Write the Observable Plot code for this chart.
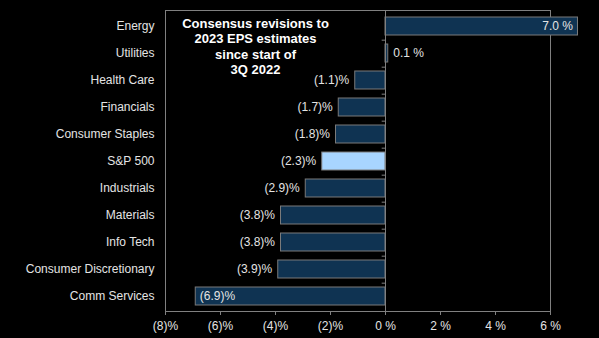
<!DOCTYPE html>
<html>
<head>
<meta charset="utf-8">
<script src="https://cdn.jsdelivr.net/npm/d3@7"></script>
<script src="https://cdn.jsdelivr.net/npm/@observablehq/plot@0.6"></script>
<style>
  html, body { margin: 0; padding: 0; background: #000; }
  #chart { width: 599px; height: 338px; }
  svg { display: block; }
</style>
</head>
<body>
<div id="chart"></div>
<script>
const categories = ["Energy", "Utilities", "Health Care", "Financials", "Consumer Staples", "S&P 500", "Industrials", "Materials", "Info Tech", "Consumer Discretionary", "Comm Services"];
const values = [7.0, 0.1, -1.1, -1.7, -1.8, -2.3, -2.9, -3.8, -3.8, -3.9, -6.9];
const xTicks = [-8, -6, -4, -2, 0, 2, 4, 6];
const titleLines = ["Consensus revisions to", "2023 EPS estimates", "since start of", "3Q 2022"];

const data = categories.map((c, i) => ({cat: c, v: values[i]}));
const fmt = v => v < 0 ? `(${(-v).toFixed(1)})%` : `${v.toFixed(1)} %`;
const tickFmt = v => v < 0 ? `(${-v})%` : `${v} %`;
const textColor = "#e4e4e4";

const outsideNeg = data.filter(d => d.v < 0 && d.v > -6);
const insideEnd = data.filter(d => d.v >= 5);
const outsidePos = data.filter(d => d.v >= 0 && d.v < 5);
const insideStart = data.filter(d => d.v <= -6);

const chart = Plot.plot({
  width: 599,
  height: 338,
  marginLeft: 165,
  marginRight: 49,
  marginTop: 10,
  marginBottom: 27,
  style: {background: "#000", color: textColor, fontFamily: "Arial, 'Liberation Sans', sans-serif", fontSize: "12px"},
  x: {domain: [-8, 6], label: null},
  y: {domain: categories, paddingInner: 0.34, paddingOuter: 0.17, label: null},
  marks: [
    Plot.frame({stroke: "#808080", strokeWidth: 1}),
    Plot.barX(data, {x: "v", y: "cat", fill: d => d.cat === "S&P 500" ? "#a8d5ff" : "#0f3352", stroke: "#7a7a7a", strokeWidth: 1}),
    Plot.ruleX([0], {stroke: "#808080", strokeWidth: 1}),
    Plot.ruleY(categories.slice(0, -1), {y: d => d, x1: -0.12, x2: 0, dy: 13.68, stroke: "#808080"}),
    Plot.text(outsideNeg, {x: "v", y: "cat", text: d => fmt(d.v), textAnchor: "end", dx: -6, fill: textColor, fontSize: 12}),
    Plot.text(insideEnd, {x: "v", y: "cat", text: d => fmt(d.v), textAnchor: "end", dx: -5, fill: textColor, fontSize: 12}),
    Plot.text(outsidePos, {x: "v", y: "cat", text: d => fmt(d.v), textAnchor: "start", dx: 5, fill: textColor, fontSize: 12}),
    Plot.text(insideStart, {x: "v", y: "cat", text: d => fmt(d.v), textAnchor: "start", dx: 4, fill: textColor, fontSize: 12}),
    Plot.axisX({ticks: xTicks, tickFormat: tickFmt, tickSize: 4, tickPadding: 6, stroke: "#808080", fill: textColor, fontSize: 12, label: null}),
    Plot.axisY({tickSize: 0, tickPadding: 11, fill: textColor, fontSize: 12, label: null}),
    Plot.text([titleLines.join("\n")], {frameAnchor: "top-left", dx: 90, dy: 6, textAnchor: "middle", lineAnchor: "top", lineHeight: 1.2, fill: "#fff", fontWeight: "bold", fontSize: 13})
  ]
});
document.getElementById("chart").appendChild(chart);
</script>
</body>
</html>
